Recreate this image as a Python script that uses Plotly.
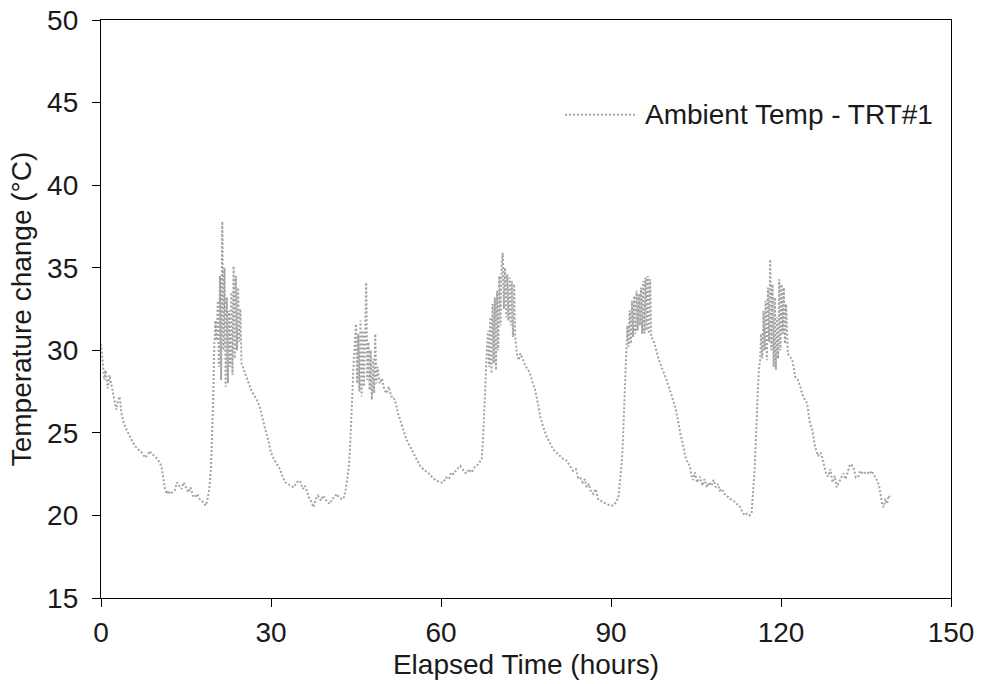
import plotly.graph_objects as go

# elapsed time (hours) and ambient temperature (°C)
hours = [
    0.0, 0.2, 0.4, 0.6, 0.8, 1.0, 1.2, 1.5, 1.8, 2.1, 2.4, 2.7, 3.0, 3.3, 3.6, 4.0, 4.5, 5.0, 5.5, 6.0,
    6.6, 7.2, 7.8, 8.3, 8.6, 9.0, 9.5, 10.0, 10.4, 10.7, 11.0, 11.3, 11.6, 11.9, 12.2, 12.6, 13.0, 13.4,
    13.8, 14.2, 14.6, 15.0, 15.4, 15.8, 16.2, 16.6, 17.0, 17.4, 17.8, 18.2, 18.5, 18.8, 19.1, 19.4, 19.6,
    19.8, 20.0,
    20.2, 20.4, 20.6, 20.8, 21.0, 21.2, 21.4, 21.6, 21.8, 22.0, 22.2, 22.4, 22.6, 22.8, 23.0, 23.2, 23.4,
    23.6, 23.8, 24.0, 24.2, 24.4, 24.6, 24.8,
    25.2, 25.6, 26.0, 26.5, 27.0, 27.5, 28.0, 28.5, 29.0, 29.5, 30.0, 30.5, 31.0, 31.6, 32.0, 32.5, 33.0,
    33.5, 34.0, 34.5, 35.1, 35.6, 36.0, 36.3, 36.8, 37.2, 37.5, 37.9, 38.3, 38.8, 39.2, 39.6, 40.0, 40.4,
    40.8, 41.2, 41.6, 42.0, 42.5, 42.8, 43.2, 43.5, 43.8, 44.0, 44.2, 44.4, 44.6, 44.8,
    45.0, 45.2, 45.4, 45.6, 45.8, 46.0, 46.2, 46.4, 46.6, 46.8, 47.0, 47.2, 47.4, 47.6, 47.8, 48.0, 48.2,
    48.4, 48.6, 48.8,
    49.2, 49.6, 50.0, 50.4, 50.8, 51.2, 51.6, 52.0, 52.4, 52.8, 53.3, 53.9, 54.5, 55.1, 55.7, 56.3, 56.9,
    57.5, 58.0, 58.6, 59.2, 59.8, 60.4, 60.9, 61.4, 61.8, 62.2, 62.8, 63.4, 63.8, 64.2, 64.5, 64.9, 65.4,
    65.9, 66.3, 66.8, 67.2, 67.5, 67.7, 67.9, 68.1, 68.3,
    68.5, 68.7, 68.9, 69.1, 69.3, 69.5, 69.7, 69.9, 70.1, 70.3, 70.5, 70.7, 70.9, 71.1, 71.3, 71.5, 71.7,
    71.9, 72.1, 72.3, 72.5, 72.7, 72.9, 73.1,
    73.4, 73.7, 74.0, 74.5, 75.0, 75.4, 75.7, 76.2, 76.6, 77.1, 77.5, 78.0, 78.6, 79.2, 79.8, 80.4, 81.0,
    81.6, 82.2, 82.8, 83.3, 83.8, 84.2, 84.5, 85.0, 85.4, 85.7, 86.1, 86.5, 86.9, 87.3, 87.7, 88.1, 88.6,
    89.2, 89.8, 90.4, 90.9, 91.3, 91.6, 91.9, 92.1, 92.3, 92.5,
    92.7, 92.9, 93.1, 93.3, 93.5, 93.7, 93.9, 94.1, 94.3, 94.5, 94.7, 94.9, 95.1, 95.3, 95.5, 95.7, 95.9,
    96.1, 96.3, 96.5, 96.7, 96.9, 97.1,
    97.5, 97.9, 98.3, 98.7, 99.2, 99.7, 100.2, 100.8, 101.3, 101.8, 102.2, 102.7, 103.1, 103.5, 103.9,
    104.2, 104.5, 104.8, 105.2, 105.7, 106.1, 106.5, 106.9, 107.3, 107.7, 108.1, 108.5, 108.9, 109.2,
    109.6, 110.0, 110.4, 111.0, 111.6, 112.2, 112.8, 113.2, 113.6, 114.0, 114.4, 114.8, 115.1, 115.3,
    115.5, 115.7, 115.9, 116.1, 116.3,
    116.5, 116.7, 116.9, 117.1, 117.3, 117.5, 117.7, 117.9, 118.1, 118.3, 118.5, 118.7, 118.9, 119.1,
    119.3, 119.5, 119.7, 119.9, 120.1, 120.3, 120.5, 120.7, 120.9,
    121.2, 121.6, 122.0, 122.5, 123.0, 123.4, 123.9, 124.6, 125.1, 125.5, 126.0, 126.5, 127.0, 127.5,
    127.9, 128.3, 128.7, 129.1, 129.5, 129.8, 130.2, 130.6, 131.0, 131.4, 131.8, 132.2, 132.5, 132.9,
    133.2, 133.6, 134.0, 134.5, 135.1, 135.6, 136.0, 136.5, 136.9, 137.3, 137.6, 137.9, 138.1, 138.4,
    138.7, 139.0, 139.2,
]

ambient_temp = [
    30.4, 29.5, 28.6, 28.2, 28.8, 28.0, 27.7, 28.5, 28.0, 27.4, 27.0, 26.4, 27.0, 27.2, 26.2, 25.6, 25.2,
    24.8, 24.5, 24.2, 24.0, 23.8, 23.5, 23.7, 23.9, 23.7, 23.6, 23.4, 23.2, 22.9, 22.3, 21.6, 21.3, 21.5,
    21.3, 21.4, 21.5, 22.0, 21.8, 21.6, 22.0, 21.7, 21.4, 21.7, 21.2, 21.1, 21.3, 21.0, 20.9, 20.7, 20.6,
    21.0, 21.6, 22.8, 24.5, 27.0, 30.4,
    31.8, 30.6, 33.0, 29.0, 34.5, 28.2, 37.8, 30.0, 35.0, 27.8, 33.2, 28.0, 32.4, 29.0, 33.5, 28.5, 35.1,
    29.5, 34.5, 30.0, 33.8, 30.5, 32.5, 29.2,
    28.8, 28.4, 28.0, 27.6, 27.3, 27.0, 26.6, 25.8, 25.2, 24.6, 23.8, 23.4, 23.1, 22.8, 22.4, 22.0, 21.9,
    21.8, 21.7, 22.0, 22.1, 21.6, 21.8, 21.5, 21.0, 20.8, 20.5, 21.0, 21.2, 20.9, 21.2, 21.0, 20.8, 20.7,
    21.0, 21.1, 21.3, 21.1, 21.0, 21.0, 21.6, 22.3, 23.2, 24.5, 26.4, 28.5, 29.4, 30.5,
    31.6, 28.0, 31.0, 27.5, 31.8, 27.2, 31.2, 27.8, 30.8, 34.1, 28.2, 30.5, 27.6, 30.0, 27.0, 29.5, 27.4,
    31.0, 28.0, 29.0,
    28.0, 28.3, 27.6, 27.4, 27.8, 27.2, 27.2, 26.8, 26.2, 25.8, 25.2, 24.6, 24.2, 23.8, 23.4, 23.0, 22.8,
    22.65, 22.5, 22.25, 22.1, 22.0, 22.0, 22.3, 22.2, 22.6, 22.5, 22.8, 23.0, 22.8, 22.6, 22.55, 22.8,
    22.6, 22.9, 23.0, 23.2, 23.4, 25.2, 27.0, 28.6, 30.0, 31.2,
    29.0, 32.0, 28.6, 32.8, 29.2, 33.2, 28.8, 33.6, 30.0, 34.5, 31.5, 35.2, 35.9, 32.5, 35.0, 32.0, 34.6,
    31.8, 34.4, 31.5, 34.2, 30.8, 34.0, 30.8,
    29.8, 29.4, 29.8, 29.4, 29.0, 28.8, 28.6, 28.0, 27.6, 26.8, 26.0, 25.4, 24.8, 24.4, 24.0, 23.8, 23.6,
    23.4, 23.3, 23.0, 22.7, 22.8, 22.3, 22.35, 22.0, 22.2, 21.7, 21.9, 21.4, 21.3, 21.6, 21.0, 20.9, 20.8,
    20.7, 20.6, 20.6, 20.8, 21.1, 22.0, 23.2, 24.5, 26.8, 29.2,
    30.0, 31.5, 30.2, 32.4, 30.4, 33.0, 30.8, 33.3, 31.0, 33.6, 31.2, 33.4, 31.5, 33.8, 31.0, 34.2, 31.0,
    34.4, 31.2, 34.5, 31.0, 34.3, 30.8,
    30.6, 30.0, 29.6, 29.2, 28.8, 28.3, 27.8, 27.2, 26.6, 25.8, 25.0, 24.3, 23.6, 23.2, 23.0, 22.4, 22.15,
    22.6, 22.0, 22.35, 21.8, 22.2, 21.7, 22.0, 21.8, 22.15, 21.7, 21.9, 21.5, 21.6, 21.3, 21.2, 21.0,
    20.9, 20.7, 20.5, 20.2, 20.0, 20.1, 20.0, 20.1, 21.3, 22.5, 24.0, 26.4, 27.5, 28.8, 29.4,
    31.0, 29.5, 32.4, 30.0, 33.0, 29.4, 33.8, 30.5, 35.5, 30.0, 34.0, 29.0, 33.2, 28.8, 32.0, 29.5, 34.3,
    30.0, 34.0, 31.0, 33.8, 30.4, 32.8,
    29.8, 29.6, 29.4, 28.4, 28.2, 27.8, 27.2, 26.8, 25.6, 25.2, 24.2, 23.6, 23.8, 23.2, 22.6, 22.35, 22.8,
    22.0, 22.4, 21.7, 22.0, 22.3, 22.55, 22.2, 22.6, 23.1, 23.05, 22.8, 22.3, 22.35, 22.7, 22.5, 22.65,
    22.5, 22.7, 22.4, 22.15, 21.8, 21.3, 20.6, 20.5, 21.0, 20.7, 21.2, 21.1,
]

x_ticks = [0, 30, 60, 90, 120, 150]
y_ticks = [15, 20, 25, 30, 35, 40, 45, 50]
series_name = "Ambient Temp - TRT#1"

line_color = "#a3a3a3"
text_color = "#1a1a1a"
font_family = "Liberation Sans, Arial, sans-serif"
font_size = 28

fig = go.Figure()
fig.add_trace(go.Scatter(
    x=hours, y=ambient_temp, mode="lines", name=series_name,
    line=dict(color=line_color, width=2, dash="2px,2px"),
    showlegend=False,
))

axis_common = dict(
    showline=True, linecolor="black", linewidth=1.3, mirror=True,
    ticks="outside", ticklen=8, tickwidth=1.3, tickcolor="black",
    showgrid=False, zeroline=False, automargin=False,
    tickfont=dict(size=font_size, color=text_color),
)

fig.update_xaxes(
    range=[0, 150], tickvals=x_ticks, ticklabelstandoff=1,
    title=dict(text="Elapsed Time (hours)", font=dict(size=font_size, color=text_color), standoff=7),
    **axis_common,
)
fig.update_yaxes(
    range=[15, 50], tickvals=y_ticks, ticklabelstandoff=8,
    title=dict(text="Temperature change (°C)", font=dict(size=font_size, color=text_color), standoff=7),
    **axis_common,
)

# legend drawn by hand so the line sample is as long as in the original
fig.add_shape(type="line", xref="paper", yref="paper",
              x0=0.546, x1=0.628, y0=0.836, y1=0.836,
              line=dict(color=line_color, width=2, dash="2px,2px"))
fig.add_annotation(text=series_name, xref="paper", yref="paper",
                   x=0.638, y=0.836, xanchor="left", yanchor="middle",
                   showarrow=False, font=dict(size=font_size, color=text_color))

fig.update_layout(
    width=983, height=684,
    margin=dict(l=101, r=32, t=20, b=86),
    paper_bgcolor="white", plot_bgcolor="white",
    font=dict(family=font_family),
)

# drop the browser's default 8px body margin so the figure sits at the page corner
fig.write_html("out.html", config={"displayModeBar": False},
               post_script="document.body.style.margin = '0';")
